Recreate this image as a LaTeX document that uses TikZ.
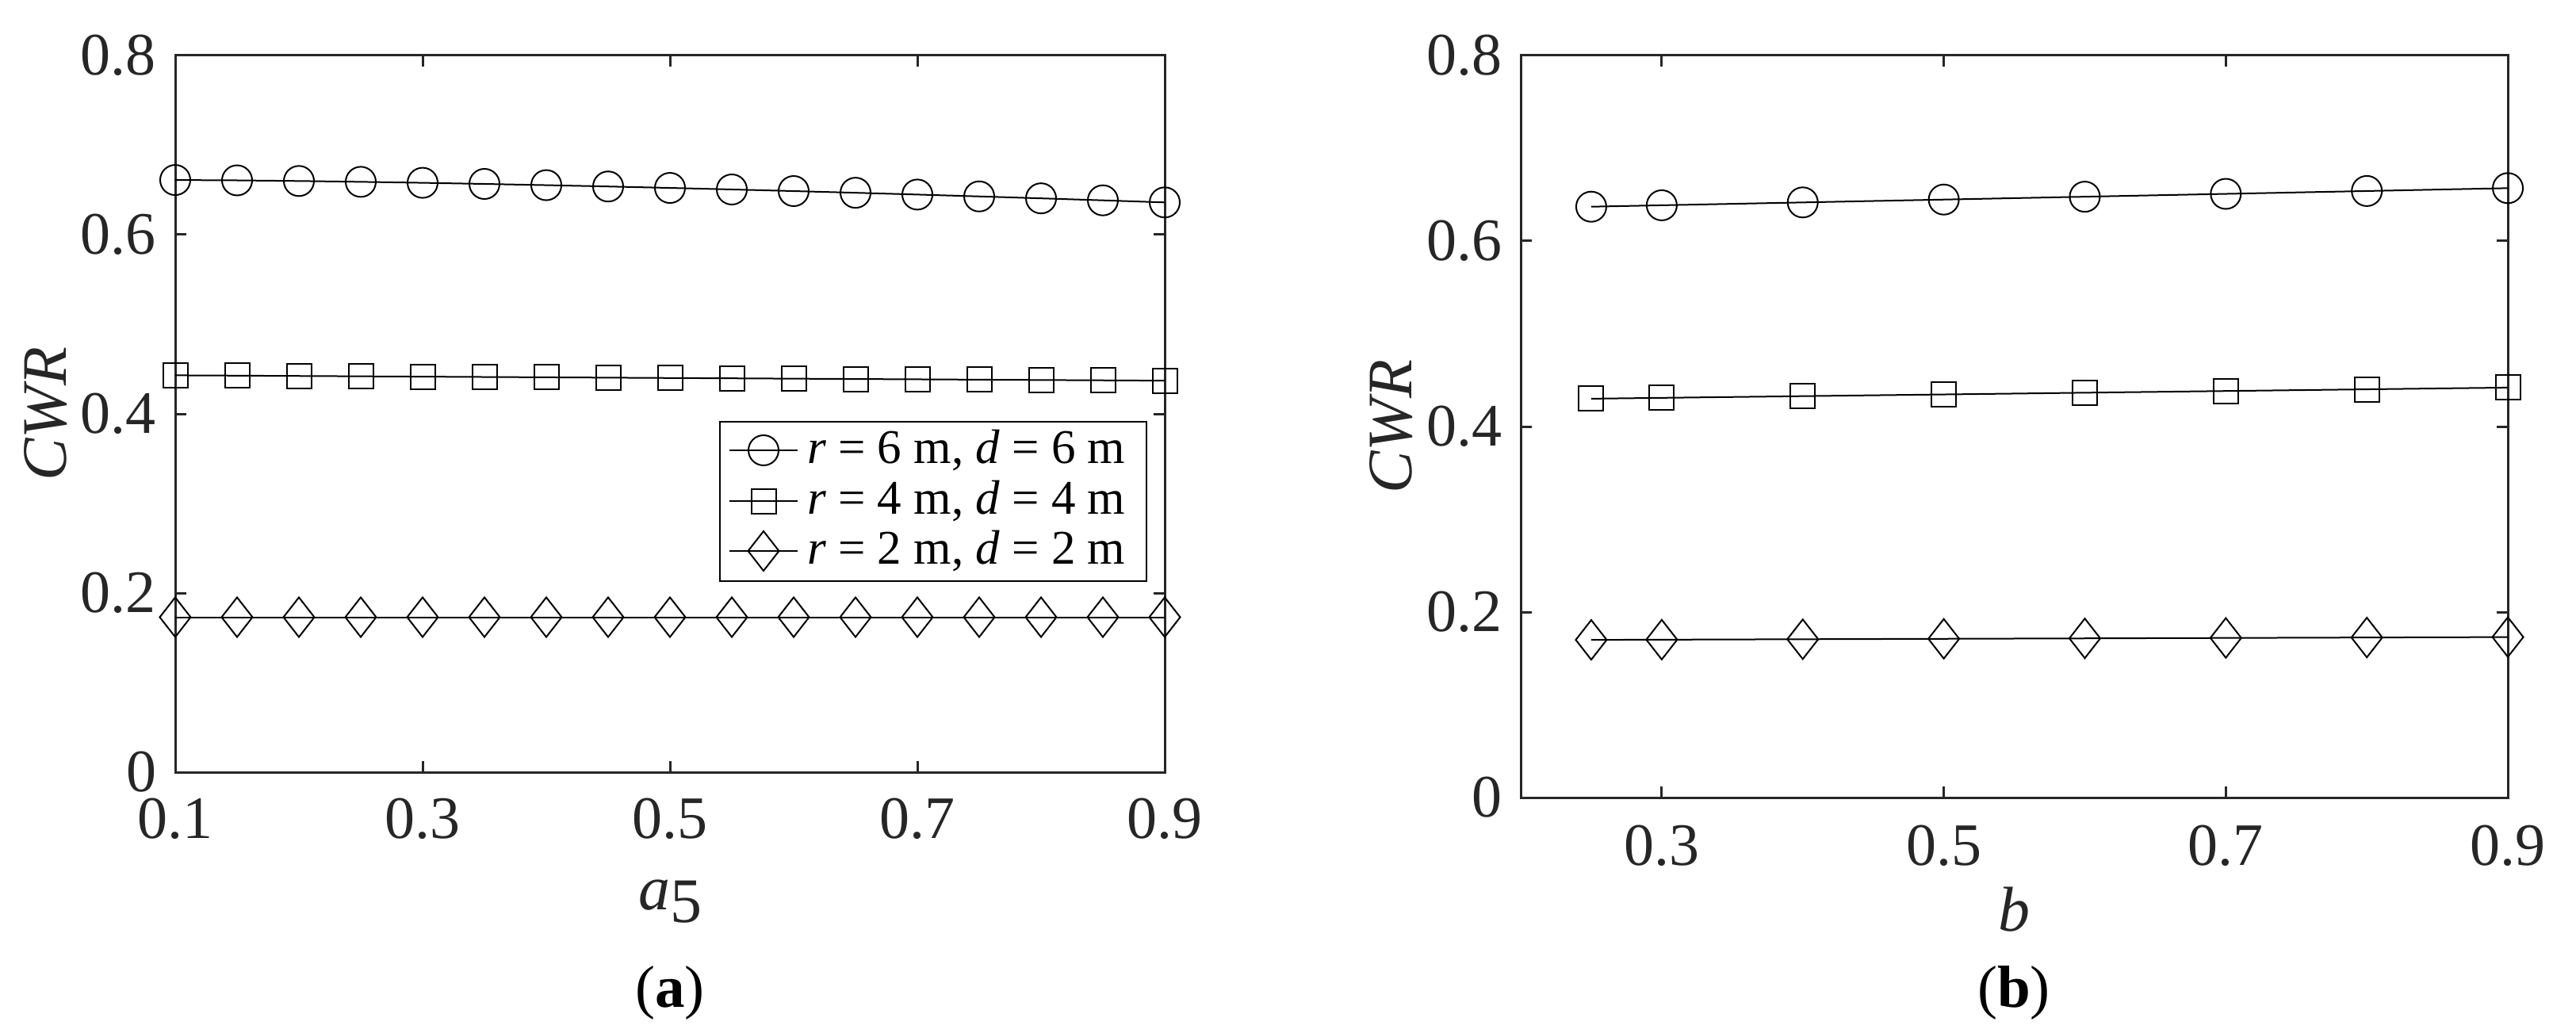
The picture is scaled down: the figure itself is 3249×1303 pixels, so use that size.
\documentclass[tikz,border=0pt]{standalone}
\usepackage{fontspec}
\setmainfont{Liberation Serif}
\begin{document}
\begin{tikzpicture}[x=0.2pt,y=-0.2pt,
  axisline/.style={line width=0.6pt,draw=black!85},
  dline/.style={line width=0.4pt,black},
  mk/.style={line width=0.4pt,black},
  ticklab/.style={font=\fontsize{15.2}{17}\selectfont,text=black!85,inner sep=0pt},
  leglab/.style={font=\fontsize{12.2}{14}\selectfont,inner sep=0pt,anchor=west},
  axlab/.style={font=\fontsize{16}{18}\selectfont\itshape,text=black!85,inner sep=0pt},
  caplab/.style={font=\fontsize{15}{18}\selectfont,inner sep=0pt}]
\useasboundingbox (0,0) rectangle (3249,1303);
\def\mcirc#1{\draw[mk] #1 circle[radius=19];}
\def\msq#1{\draw[mk] #1 ++(-15.5,-15.5) rectangle ++(31,31);}
\def\mdia#1{\draw[mk] #1 ++(0,-25) -- ++(19.5,25) -- ++(-19.5,25) -- ++(-19.5,-25) -- cycle;}
%% ---------- panel (a) ----------
\draw[axisline] (221,70) rectangle (1469,974);
\foreach \v/\l in {0.1/0.1,0.3/0.3,0.5/0.5,0.7/0.7,0.9/0.9}{
  \pgfmathsetmacro\xx{221+(\v-0.1)*1560}
  \draw[axisline] (\xx,974) -- (\xx,960) (\xx,70) -- (\xx,84);
  \node[ticklab] at (\xx,1033) {\l};}
\foreach \v/\l in {0/0,0.2/0.2,0.4/0.4,0.6/0.6,0.8/0.8}{
  \pgfmathsetmacro\yy{974-\v*1130}
  \draw[axisline] (221,\yy) -- (235,\yy) (1469,\yy) -- (1455,\yy);
  \node[ticklab,anchor=east] at (198,\yy) {\l};}
\node[axlab,rotate=90] at (58,522) {CWR};
\node[axlab] at (845,1137) {a\raisebox{-0.45ex}{\upshape 5}};
\node[caplab] at (845,1252) {(\textbf{a})};
% data
\draw[dline] plot[domain=0.1:0.9,samples=17] ({221+(\x-0.1)*1560},{974-1130*(0.661-0.025*((\x-0.1)/0.8)^1.5)});
\draw[dline] plot[domain=0.1:0.9,samples=17] ({221+(\x-0.1)*1560},{974-1130*(0.443-0.006*(\x-0.1)/0.8)});
\draw[dline] plot[domain=0.1:0.9,samples=17] ({221+(\x-0.1)*1560},{974-1130*0.173});
\foreach \i in {0,...,16}{
  \pgfmathsetmacro\t{\i/16}
  \pgfmathsetmacro\xx{221+\t*1248}
  \pgfmathsetmacro\ya{974-1130*(0.661-0.025*\t^1.5)}
  \pgfmathsetmacro\yb{974-1130*(0.443-0.006*\t)}
  \pgfmathsetmacro\yc{974-1130*0.173}
  \mcirc{(\xx,\ya)}
  \msq{(\xx,\yb)}
  \mdia{(\xx,\yc)}}
% legend
\draw[line width=0.5pt,fill=white] (908,532) rectangle (1446,733);
\foreach \yy/\n in {568/6,632/4,695/2}{
  \draw[dline] (920,\yy) -- (1006,\yy);
  \node[leglab] at (1017,\yy) {\textit{r} = \n\ m, \textit{d} = \n\ m};}
\mcirc{(963,568)}
\msq{(963,632)}
\mdia{(963,695)}
%% ---------- panel (b) ----------
\draw[axisline] (1918,70) rectangle (3163,1006);
\foreach \v/\l in {0.3/0.3,0.5/0.5,0.7/0.7,0.9/0.9}{
  \pgfmathsetmacro\xx{1918+(\v-0.2)*1778.6}
  \draw[axisline] (\xx,1006) -- (\xx,992) (\xx,70) -- (\xx,84);
  \node[ticklab] at (\xx,1067) {\l};}
\foreach \v/\l in {0/0,0.2/0.2,0.4/0.4,0.6/0.6,0.8/0.8}{
  \pgfmathsetmacro\yy{1006-\v*1170}
  \draw[axisline] (1918,\yy) -- (1932,\yy) (3163,\yy) -- (3149,\yy);
  \node[ticklab,anchor=east] at (1895,\yy) {\l};}
\node[axlab,rotate=90] at (1755,538) {CWR};
\node[axlab] at (2540,1147) {b};
\node[caplab] at (2540,1252) {(\textbf{b})};
\draw[dline] plot[domain=0.25:0.9,samples=14] ({1918+(\x-0.2)*1778.6},{1006-1170*(0.637+0.020*(\x-0.25)/0.65)});
\draw[dline] plot[domain=0.25:0.9,samples=14] ({1918+(\x-0.2)*1778.6},{1006-1170*(0.430+0.012*(\x-0.25)/0.65)});
\draw[dline] plot[domain=0.25:0.9,samples=14] ({1918+(\x-0.2)*1778.6},{1006-1170*(0.170+0.003*(\x-0.25)/0.65)});
\foreach \v in {0.25,0.3,0.4,0.5,0.6,0.7,0.8,0.9}{
  \pgfmathsetmacro\t{(\v-0.25)/0.65}
  \pgfmathsetmacro\xx{1918+(\v-0.2)*1778.6}
  \pgfmathsetmacro\ya{1006-1170*(0.637+0.020*\t)}
  \pgfmathsetmacro\yb{1006-1170*(0.430+0.012*\t)}
  \pgfmathsetmacro\yc{1006-1170*(0.170+0.003*\t)}
  \mcirc{(\xx,\ya)}
  \msq{(\xx,\yb)}
  \mdia{(\xx,\yc)}}
\end{tikzpicture}
\end{document}
